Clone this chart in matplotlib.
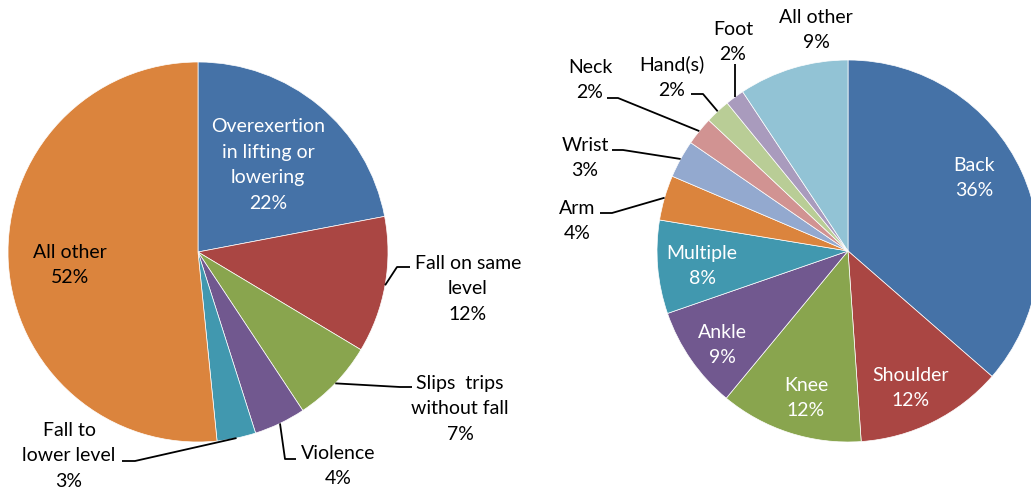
import numpy as np
import matplotlib
matplotlib.use("Agg")
import matplotlib.pyplot as plt

plt.rcParams['font.family'] = ['Lato', 'DejaVu Sans']

# left pie: event type
ev_names = ["Overexertion\nin lifting or\nlowering", "Fall on same\nlevel", "Slips  trips\nwithout fall",
            "Violence", "Fall to\nlower level", "All other"]
ev_vals = [22.0, 11.6, 7.1, 4.4, 3.3, 51.6]
ev_pct = ["22%", "12%", "7%", "4%", "3%", "52%"]
ev_colors = ["#4572A7", "#AA4643", "#89A54E", "#71588F", "#4198AF", "#DB843D"]

# right pie: body part
bp_names = ["Back", "Shoulder", "Knee", "Ankle", "Multiple", "Arm", "Wrist", "Neck",
            "Hand(s)", "Foot", "All other"]
bp_vals = [36.4, 12.5, 12.1, 8.7, 7.9, 3.8, 3.2, 2.4, 2.1, 1.6, 9.3]
bp_pct = ["36%", "12%", "12%", "9%", "8%", "4%", "3%", "2%", "2%", "2%", "9%"]
bp_colors = ["#4572A7", "#AA4643", "#89A54E", "#71588F", "#4198AF", "#DB843D",
             "#93A9CF", "#D19392", "#B9CD96", "#A99BBD", "#92C3D5"]

W, H = 1031, 489
fig = plt.figure(figsize=(W / 100, H / 100), dpi=100)
ax = fig.add_axes([0, 0, 1, 1])

c1, r1 = (198, H - 253), 190
c2, r2 = (848, H - 252), 191

w1, _ = ax.pie(ev_vals, colors=ev_colors, startangle=90, counterclock=False,
               center=c1, radius=r1, wedgeprops=dict(edgecolor="white", linewidth=0.5))
w2, _ = ax.pie(bp_vals, colors=bp_colors, startangle=90, counterclock=False,
               center=c2, radius=r2, wedgeprops=dict(edgecolor="white", linewidth=0.5))

ax.set_xlim(0, W)
ax.set_ylim(0, H)
ax.set_aspect("equal")
ax.axis("off")

fs = 14
ls = 1.62


def edge_pt(w, c, r):
    a = np.deg2rad((w.theta1 + w.theta2) / 2)
    return c[0] + r * np.cos(a), c[1] + r * np.sin(a)


def label(x, y, s, color="black"):
    ax.text(x, H - y, s, ha="center", va="center", fontsize=fs, color=color, linespacing=ls)


def leader(w, c, r, pts):
    x0, y0 = edge_pt(w, c, r)
    xs = [x0] + [p[0] for p in pts]
    ys = [y0] + [H - p[1] for p in pts]
    ax.plot(xs, ys, color="black", lw=1.3, solid_capstyle="butt")


# left pie labels
label(268, 165, ev_names[0] + "\n" + ev_pct[0], "white")
label(70, 265, ev_names[5] + "\n" + ev_pct[5])
label(468, 289, ev_names[1] + "\n" + ev_pct[1])
leader(w1[1], c1, r1, [(397, 268), (410, 268)])
label(460, 409, ev_names[2] + "\n" + ev_pct[2])
leader(w1[2], c1, r1, [(400, 388), (412, 388)])
label(338, 466, ev_names[3] + "\n" + ev_pct[3])
leader(w1[3], c1, r1, [(285, 460), (296, 460)])
label(69, 456, ev_names[4] + "\n" + ev_pct[4])
leader(w1[4], c1, r1, [(135, 462), (122, 462)])

# right pie labels
label(974, 178, bp_names[0] + "\n" + bp_pct[0], "white")
label(911, 388, bp_names[1] + "\n" + bp_pct[1], "white")
label(806, 398, bp_names[2] + "\n" + bp_pct[2], "white")
label(722, 345, bp_names[3] + "\n" + bp_pct[3], "white")
label(702, 266, bp_names[4] + "\n" + bp_pct[4], "white")
label(577, 221, bp_names[5] + "\n" + bp_pct[5])
leader(w2[5], c2, r2, [(612, 214), (600, 214)])
label(585, 158, bp_names[6] + "\n" + bp_pct[6])
leader(w2[6], c2, r2, [(623, 151), (612, 151)])
label(590, 80, bp_names[7] + "\n" + bp_pct[7])
leader(w2[7], c2, r2, [(618, 99), (607, 99)])
label(672, 77, bp_names[8] + "\n" + bp_pct[8])
leader(w2[8], c2, r2, [(703, 95), (691, 95)])
label(733, 42, bp_names[9] + "\n" + bp_pct[9])
x0, _ = edge_pt(w2[9], c2, r2)
leader(w2[9], c2, r2, [(x0, 65)])
label(816, 30, bp_names[10] + "\n" + bp_pct[10])

fig.savefig("out.png", dpi=100)
